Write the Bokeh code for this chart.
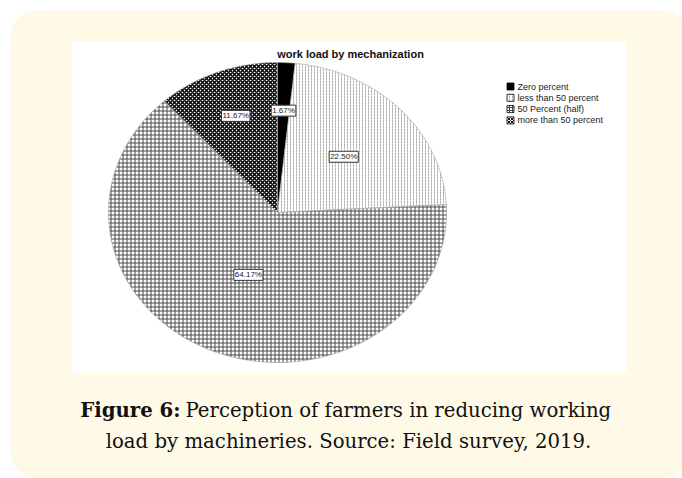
import numpy as np
from bokeh.plotting import figure
from bokeh.models import Range1d, BoxAnnotation, ColumnDataSource
from bokeh.core.properties import value
from bokeh.embed import file_html
from bokeh.resources import INLINE

# ---- data ----
categories = ["Zero percent", "less than 50 percent", "50 Percent (half)", "more than 50 percent"]
percentages = [1.67, 22.50, 64.17, 11.67]
chart_title = "work load by mechanization"
caption_bold = "Figure 6:"
caption_line1 = "Perception of farmers in reducing working"
caption_line2 = "load by machineries. Source: Field survey, 2019."

# ---- styles ----
fill_colors = ["#000000", "#ffffff", "#ffffff", "#ffffff"]
hatch_patterns = [" ", "vertical_dash", "cross", "diagonal_cross"]
hatch_colors = ["#000000", "#b0b0b0", "#4a4a4a", "#111111"]
hatch_scales = [4, 3, 4, 4]
hatch_weights = [1, 1, 1, 1.6]
label_radius = [0.68, 0.54, 0.45, 0.69]

W, H = 682, 478
p = figure(width=W, height=H, x_range=Range1d(0, W), y_range=Range1d(H, 0),
           output_backend="svg", toolbar_location=None, min_border=0)
p.axis.visible = False
p.grid.visible = False
p.outline_line_color = None
p.background_fill_color = "white"
p.border_fill_color = "white"

# panel backgrounds
p.add_layout(BoxAnnotation(left=10, right=690, top=10, bottom=477, fill_color="#FFFAE8",
                           fill_alpha=1, line_color=None, border_radius=26, level="underlay"))
p.add_layout(BoxAnnotation(left=72, right=626, top=41, bottom=372, fill_color="white",
                           fill_alpha=1, line_color=None, level="underlay"))

# pie (ellipse as drawn in source)
cx, cy, rx, ry = 277, 212, 169, 150
vals = np.array(percentages, dtype=float)
fracs = vals / vals.sum()
ends = np.cumsum(fracs) * 2 * np.pi
starts = ends - fracs * 2 * np.pi
xs, ys, lx, ly = [], [], [], []
for a0, a1, f in zip(starts, ends, label_radius):
    t = np.linspace(a0, a1, max(int((a1 - a0) * 80), 6))
    xs.append([cx] + list(cx + rx * np.sin(t)))
    ys.append([cy] + list(cy - ry * np.cos(t)))
    m = (a0 + a1) / 2
    lx.append(cx + f * rx * np.sin(m))
    ly.append(cy - f * ry * np.cos(m))

src = ColumnDataSource(dict(xs=xs, ys=ys, fill=fill_colors, hp=hatch_patterns,
                            hc=hatch_colors, hs=hatch_scales, hw=hatch_weights))
p.patches("xs", "ys", source=src, fill_color="fill", hatch_pattern="hp",
          hatch_color="hc", hatch_scale="hs", hatch_weight="hw",
          line_color="#a0a0a0", line_width=0.6)

p.text(x=lx, y=ly, text=[f"{v:.2f}%" for v in percentages],
       text_font=value("Liberation Sans"), text_font_size="8px",
       text_align="center", text_baseline="middle", text_color="#222222",
       background_fill_color="white", border_line_color="#333333",
       border_line_width=1, padding=1)

# title
p.text(x=[350], y=[53], text=[chart_title], text_font=value("Liberation Sans"),
       text_font_size="11px", text_font_style="bold", text_align="center",
       text_baseline="middle", text_color="#111111")

# legend
leg_y = [86 + 11.3 * i for i in range(len(categories))]
leg_src = ColumnDataSource(dict(x=[510] * len(categories), y=leg_y, fill=fill_colors,
                                hp=hatch_patterns, hc=hatch_colors))
p.rect("x", "y", width=7, height=7, source=leg_src, fill_color="fill",
       hatch_pattern="hp", hatch_color="hc", hatch_scale=3, hatch_weight=1,
       line_color="#000000", line_width=0.8)
p.text(x=[517] * len(categories), y=leg_y, text=categories,
       text_font=value("Liberation Sans"), text_font_size="9px",
       text_align="left", text_baseline="middle", text_color="#222222")

# caption
cap_font = value("DejaVu Serif")
p.text(x=[180], y=[410], text=[caption_bold], text_font=cap_font,
       text_font_size="19.7px", text_font_style="bold", text_align="right",
       text_baseline="middle", text_color="#111111")
p.text(x=[185], y=[410], text=[caption_line1], text_font=cap_font,
       text_font_size="19.7px", text_align="left", text_baseline="middle",
       text_color="#111111")
p.text(x=[348], y=[441], text=[caption_line2], text_font=cap_font,
       text_font_size="19.7px", text_align="center", text_baseline="middle",
       text_color="#111111")

open("out.html", "w").write(file_html(p, INLINE))
